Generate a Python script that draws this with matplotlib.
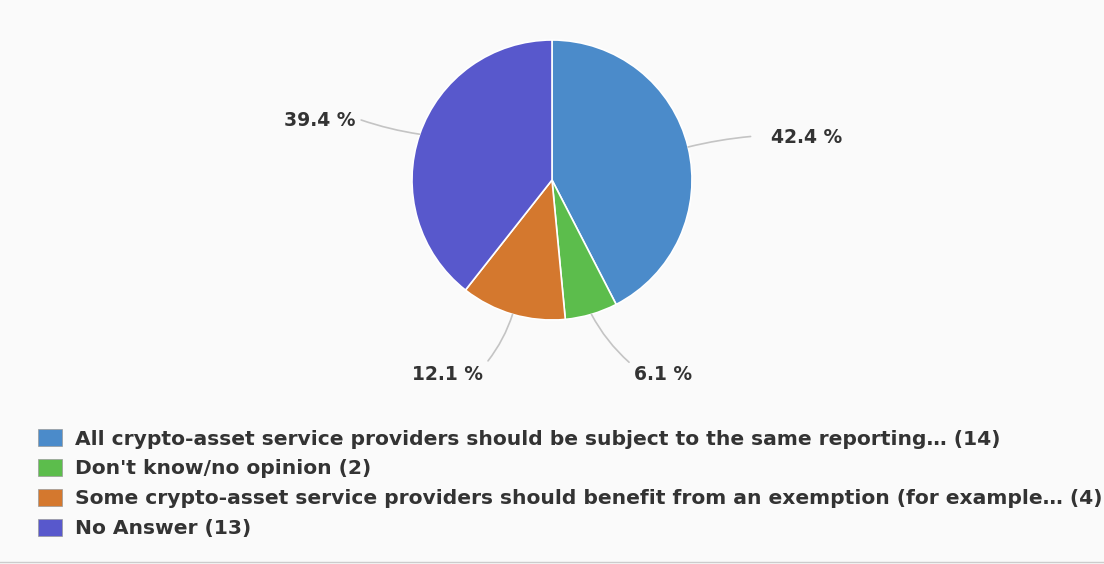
import matplotlib.pyplot as plt
import numpy as np
from matplotlib.patches import Patch

categories = ['All crypto-asset service providers should be subject to the same reporting\u2026',
              "Don't know/no opinion",
              'Some crypto-asset service providers should benefit from an exemption (for example\u2026',
              'No Answer']
counts = [14, 2, 4, 13]
colors = ['#4b8bca', '#5cbd4c', '#d4782e', '#5858cc']

W, H = 1104, 564
fig = plt.figure(figsize=(W / 100, H / 100), dpi=100)
fig.patch.set_facecolor('#fafafa')

# pie centred at (552, 180) px, radius 140 px
cx, cy, r = 552, 180, 140
ax = fig.add_axes([(cx - r) / W, 1 - (cy + r) / H, 2 * r / W, 2 * r / H])
wedges, _ = ax.pie(counts, colors=colors, startangle=90, counterclock=False,
                   radius=1, wedgeprops=dict(edgecolor='white', linewidth=1.2))
ax.set_xlim(-1, 1)
ax.set_ylim(-1, 1)
ax.set_aspect('equal')
ax.axis('off')

total = sum(counts)
# label centres in pixels, where the leader leaves the text, gap, curvature
label_pos = [(807, 137), (663, 374), (448, 374), (320, 120)]
relpos = [(0, 0.6), (0, 0.9), (1, 0.9), (1, 0.6)]
gaps = [13, 2, 2, 2]
rads = [0.05, -0.1, 0.1, 0.05]
for w, n, (px, py), rp, g, rad in zip(wedges, counts, label_pos, relpos, gaps, rads):
    ang = np.deg2rad((w.theta1 + w.theta2) / 2)
    edge = (np.cos(ang), np.sin(ang))
    txt = ((px - cx) / r, (cy - py) / r)
    ax.annotate(f'{100 * n / total:.1f} %', xy=edge, xytext=txt,
                ha='center', va='center', fontsize=13.5, fontweight='bold',
                color='#333333', annotation_clip=False,
                arrowprops=dict(arrowstyle='-', color='#c4c4c4', lw=1.2,
                                shrinkA=g, shrinkB=0, relpos=rp,
                                connectionstyle=f'arc3,rad={rad}'))

handles = [Patch(facecolor=c, edgecolor='#999999', linewidth=0.5) for c in colors]
labels = [f'{c} ({n})' for c, n in zip(categories, counts)]
fig.legend(handles, labels, loc='upper left', bbox_to_anchor=(30 / W, 1 - 421 / H),
           frameon=False, handlelength=1.2, handleheight=0.9,
           handletextpad=0.6, labelspacing=0.52, borderaxespad=0,
           prop=dict(weight='bold', size=14.6), labelcolor='#333333')

fig.add_artist(plt.Line2D([0, 1], [1 - 562 / H] * 2, color='#cccccc', lw=1))

fig.savefig('out.png', dpi=100, facecolor=fig.get_facecolor())
